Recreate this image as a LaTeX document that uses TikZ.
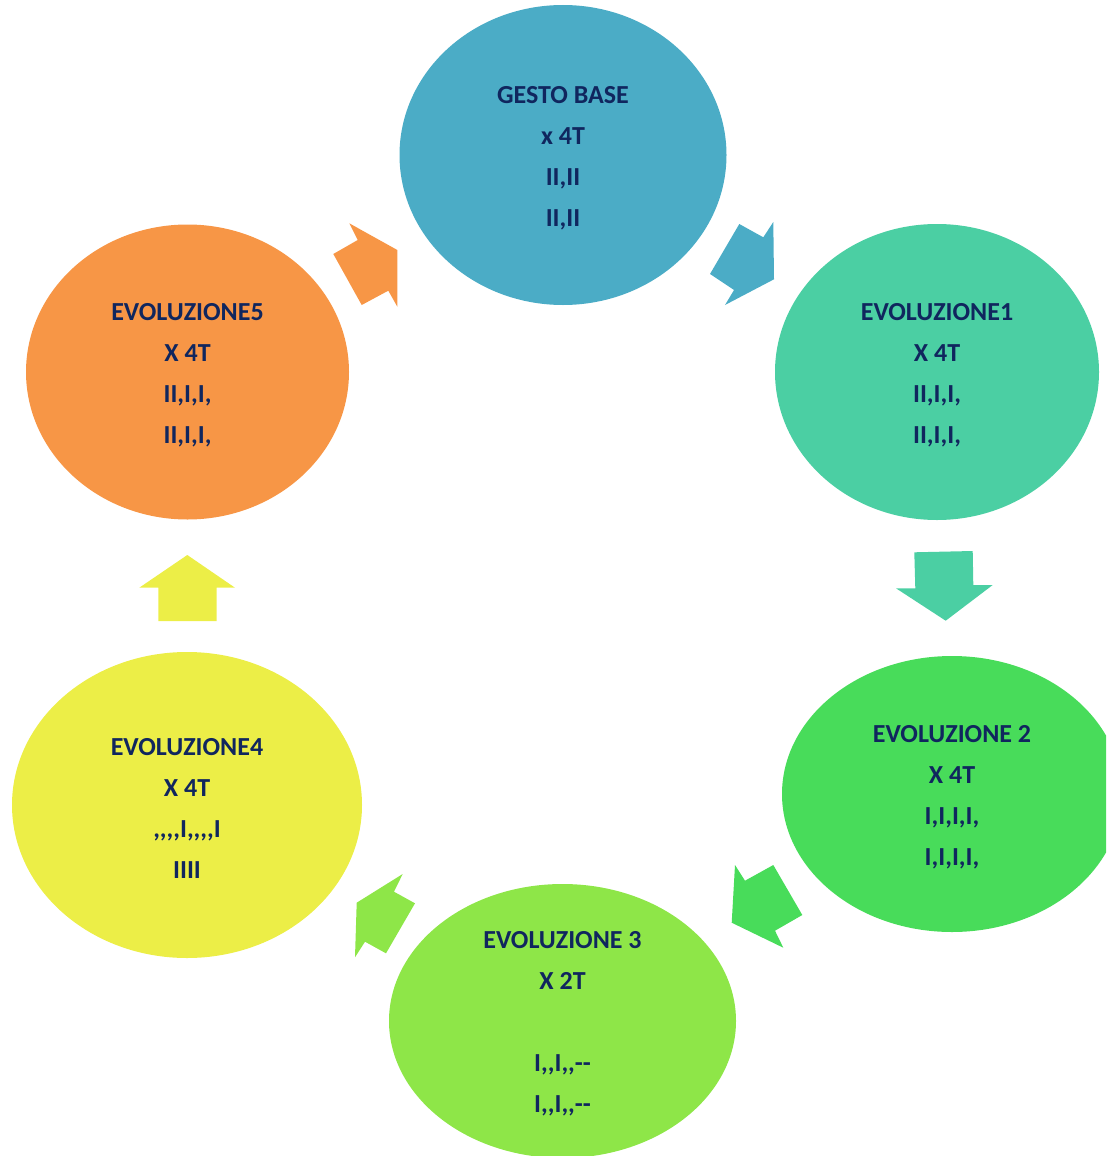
\documentclass[tikz,border=0pt]{standalone}
\usepackage{fontspec}
\setmainfont{Carlito}[Ligatures=TeXOff]
\usetikzlibrary{shapes.geometric}
\definecolor{cBlue}{HTML}{4BACC6}
\definecolor{cTeal}{HTML}{4BCFA3}
\definecolor{cGreen}{HTML}{48DC5A}
\definecolor{cLime}{HTML}{8EE648}
\definecolor{cYellow}{HTML}{ECEE47}
\definecolor{cOrange}{HTML}{F79646}
\definecolor{cText}{HTML}{10265E}
\tikzset{
  bubble/.style={ellipse, inner sep=0pt},
  bubbletext/.style={inner sep=0pt, align=center, text=cText,
    font=\fontsize{26pt}{41pt}\selectfont\bfseries, yshift=-3pt},
}
\begin{document}
\begin{tikzpicture}[x=1pt,y=-1pt]
\useasboundingbox (0,0) rectangle (1106,1156);
\clip (0,0) rectangle (1106,1156);
% ellipses
\node[bubble, fill=cBlue, minimum width=327pt, minimum height=300pt] (b0) at (563,155) {};
\node[bubble, fill=cTeal, minimum width=324pt, minimum height=296pt] (b1) at (937,372) {};
\node[bubble, fill=cGreen, minimum width=340pt, minimum height=276pt] (b2) at (952,794) {};
\node[bubble, fill=cLime, minimum width=347pt, minimum height=274pt] (b3) at (562.5,1021) {};
\node[bubble, fill=cYellow, minimum width=350pt, minimum height=306pt] (b4) at (187,805) {};
\node[bubble, fill=cOrange, minimum width=323pt, minimum height=295pt] (b5) at (187.5,372) {};
% texts
\node[bubbletext] (t0) at (b0.center) {GESTO BASE\\x 4T\\II,II\\II,II};
\node[bubbletext] (t1) at (b1.center) {EVOLUZIONE1\\X 4T\\II,I,I,\\II,I,I,};
\node[bubbletext] (t2) at (b2.center) {EVOLUZIONE 2\\X 4T\\I,I,I,I,\\I,I,I,I,};
\node[bubbletext] (t3) at (b3.center) {EVOLUZIONE 3\\X 2T\\[41pt]I,,I,,--\\I,,I,,--};
\node[bubbletext] (t4) at (b4.center) {EVOLUZIONE4\\X 4T\\,,,,I,,,,I\\IIII};
\node[bubbletext] (t5) at (b5.center) {EVOLUZIONE5\\X 4T\\II,I,I,\\II,I,I,};
% block arrows
\fill[cBlue] (739.3,224) -- (763.3,237.3) -- (773.3,222) -- (774,279.3) -- (725,305) -- (734,290) -- (710,274) -- cycle;
\fill[cTeal] (914.3,552.3) -- (972.7,551) -- (973.3,585) -- (992.7,585) -- (945.7,620.7) -- (896,588.3) -- (915.3,588.3) -- cycle;
\fill[cGreen] (735,865) -- (745,880.7) -- (773.3,865) -- (802.3,915) -- (775,930.7) -- (783.3,947.7) -- (731.7,922.7) -- cycle;
\fill[cLime] (402.7,874) -- (394,891.7) -- (415,903.3) -- (386,953.3) -- (365,941.7) -- (355,957.3) -- (356.7,902.7) -- cycle;
\fill[cYellow] (187.3,555) -- (235,587.7) -- (216.7,587.7) -- (216.7,621) -- (158.3,621) -- (158.3,587.7) -- (139.3,587.7) -- cycle;
\fill[cOrange] (349.3,223.3) -- (357.7,240) -- (333.3,254) -- (361.7,305) -- (388.3,290.7) -- (397.3,306.7) -- (397.3,250) -- cycle;
\end{tikzpicture}
\end{document}
